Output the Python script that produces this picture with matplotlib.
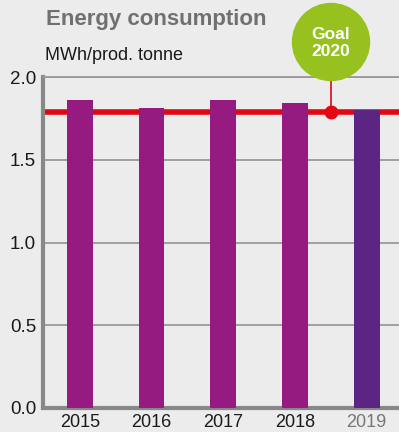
import matplotlib.pyplot as plt

years = ["2015", "2016", "2017", "2018", "2019"]
values = [1.86, 1.81, 1.86, 1.84, 1.80]
bar_colors = ["#951b81", "#951b81", "#951b81", "#951b81", "#5c2483"]
goal = 1.79
goal_label = "Goal\n2020"
yticks = [0.0, 0.5, 1.0, 1.5, 2.0]

plt.rcParams['font.family'] = ['Liberation Sans', 'DejaVu Sans']
bg = "#ececec"

fig = plt.figure(figsize=(3.99, 4.32), dpi=100, facecolor=bg)
# axes runs off the right edge of the figure, like the original
ax = fig.add_axes([43 / 399, 24 / 432, 460 / 399, 331 / 432])
ax.set_facecolor(bg)

x = range(len(years))
ax.bar(x, values, width=0.36, color=bar_colors, zorder=3)
ax.axhline(goal, color="#e30613", lw=4, zorder=2)

ax.set_xlim(-0.514, 5.9)
ax.set_ylim(0, 2.0)
ax.set_yticks(yticks)
ax.set_yticklabels([f"{t:.1f}" for t in yticks], fontsize=13.5)
ax.set_xticks(list(x))
ax.set_xticklabels(years, fontsize=13)
ax.tick_params(axis="y", length=0, pad=5, colors="#1a1a1a")
ax.tick_params(axis="x", length=0, pad=4.5, colors="#1a1a1a")
ax.get_xticklabels()[-1].set_color("#777777")
ax.yaxis.grid(True, color="#999999", lw=1.3, zorder=1)

for s in ["left", "bottom"]:
    ax.spines[s].set_color("#888888")
    ax.spines[s].set_linewidth(3)
ax.spines["top"].set_color("#999999")
ax.spines["top"].set_linewidth(1.3)
ax.spines["right"].set_visible(False)

# goal marker with bubble
gx = 3.5
ax.plot([gx, gx], [goal, 2.08], color="#e30613", lw=1.2, zorder=4, clip_on=False)
ax.plot(gx, goal, "o", color="#e30613", ms=9, zorder=5, clip_on=False)
bubble = plt.Circle((331, 432 - 42), 38.5, transform=None, color="#97c11f", zorder=6)
fig.patches.append(bubble)
fig.text(331 / 399, 1 - 43 / 432, goal_label, color="white", fontsize=12.5,
         fontweight="bold", ha="center", va="center", linespacing=1.2, zorder=7)

fig.text(46 / 399, 1 - 20 / 432, "Energy consumption", fontsize=16, fontweight="bold",
         color="#707070", va="center")
fig.text(45 / 399, 1 - 55 / 432, "MWh/prod. tonne", fontsize=13, color="#1a1a1a", va="center")

fig.savefig("out.png", dpi=100, facecolor=bg)
